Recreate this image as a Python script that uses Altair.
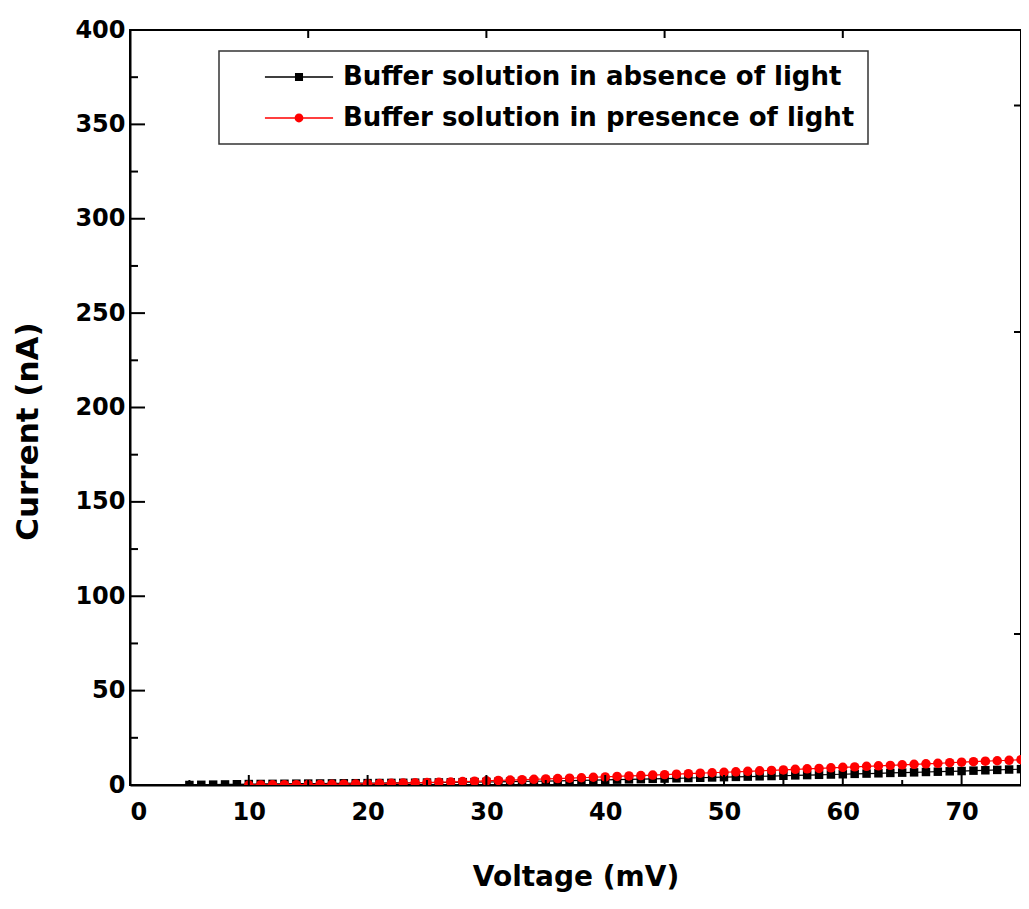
import altair as alt
import pandas as pd

# ---- data ----
voltage_dark = list(range(5, 76))
current_dark = [0.0, 0.1, 0.2, 0.3, 0.4, 0.5, 0.55, 0.6, 0.65, 0.7,
                0.75, 0.8, 0.85, 0.9, 0.95, 1.0, 1.05, 1.1, 1.15, 1.2,
                1.3, 1.35, 1.4, 1.5, 1.55, 1.6, 1.7, 1.8, 1.9, 2.0,
                2.1, 2.2, 2.3, 2.45, 2.6, 2.7, 2.85, 3.0, 3.1, 3.25,
                3.4, 3.55, 3.7, 3.85, 4.0, 4.15, 4.3, 4.45, 4.6, 4.75,
                4.9, 5.1, 5.25, 5.4, 5.55, 5.7, 5.9, 6.05, 6.2, 6.4,
                6.55, 6.7, 6.9, 7.05, 7.25, 7.4, 7.6, 7.8, 8.0, 8.2, 8.4]
voltage_light = list(range(10, 76))
current_light = [0.0, 0.05, 0.1, 0.15, 0.2, 0.25, 0.3, 0.35, 0.45, 0.55,
                 0.65, 0.75, 0.9, 1.0, 1.15, 1.3, 1.45, 1.6, 1.8, 2.0,
                 2.2, 2.4, 2.6, 2.8, 3.0, 3.2, 3.4, 3.6, 3.85, 4.1,
                 4.3, 4.55, 4.8, 5.0, 5.25, 5.5, 5.75, 6.0, 6.25, 6.5,
                 6.75, 7.0, 7.25, 7.5, 7.75, 8.0, 8.3, 8.55, 8.8, 9.1,
                 9.35, 9.6, 9.9, 10.15, 10.4, 10.7, 10.95, 11.2, 11.5, 11.8,
                 12.1, 12.35, 12.6, 12.85, 13.1, 13.4]

series_names = ["Buffer solution in absence of light",
                "Buffer solution in presence of light"]
series_colors = ["#000000", "#ff0000"]

x_tick_labels = [0, 10, 20, 30, 40, 50, 60, 70]
x_minor = [5, 15, 25, 35, 45, 55, 65, 75]
y_tick_labels = [0, 50, 100, 150, 200, 250, 300, 350, 400]
y_minor = [25, 75, 125, 175, 225, 275, 325, 375]
top_ticks = [15, 30, 45, 60]
right_ticks = [80, 240, 360]

W, H = 891, 755
FONT = "DejaVu Sans"

dark = pd.DataFrame({"V": voltage_dark, "I": current_dark})
light = pd.DataFrame({"V": voltage_light, "I": current_light})
legend_df = pd.DataFrame({"series": series_names})

xs = alt.Scale(domain=[0, 75], nice=False, zero=False)
ys = alt.Scale(domain=[0, 400], nice=False)

x_axis = alt.Axis(values=x_tick_labels, title="Voltage (mV)", grid=False, ticks=False, tickSize=0,
                  domainColor="black", domainWidth=2, labelFont=FONT, labelFontWeight="bold",
                  labelFontSize=24, labelColor="black", labelPadding=15, titleFont=FONT,
                  titleFontWeight="bold", titleFontSize=28, titleColor="black",
                  titleBaseline="alphabetic", titleY=100)
y_axis = alt.Axis(values=y_tick_labels, title="Current (nA)", grid=False, ticks=False, tickSize=0,
                  domainColor="black", domainWidth=2, labelFont=FONT, labelFontWeight="bold",
                  labelFontSize=24, labelColor="black", labelPadding=5, titleFont=FONT,
                  titleFontWeight="bold", titleFontSize=31, titleColor="black",
                  titleBaseline="alphabetic", titleX=-93, titleY=401)

X = dict(field="V", type="quantitative", scale=xs, axis=x_axis, title="Voltage (mV)")
Y = dict(field="I", type="quantitative", scale=ys, axis=y_axis, title="Current (nA)")

line_dark = alt.Chart(dark).mark_line(color="#000000", strokeWidth=1.2, clip=True).encode(
    x=alt.X(**X), y=alt.Y(**Y))
pts_dark = alt.Chart(dark).mark_point(shape="square", filled=True, color="#000000", size=72,
                                      opacity=1, clip=True).encode(
    x=alt.X(**X), y=alt.Y(**Y))
line_light = alt.Chart(light).mark_line(color="#ff0000", strokeWidth=1.2, clip=True).encode(
    x=alt.X(**X), y=alt.Y(**Y))
pts_light = alt.Chart(light).mark_point(shape="circle", filled=True, color="#ff0000", size=90,
                                        opacity=1, clip=True).encode(
    x=alt.X(**X), y=alt.Y(**Y))

# legend symbols: line with marker (path units: 13 px each, symbolSize 26^2)
line_path = "M-2.62,-0.055H2.62V0.055H-2.62Z"
sq_path = "M-0.31,-0.31H0.31V0.31H-0.31Z"
ci_path = "M0.34,0A0.34,0.34,0,1,1,-0.34,0A0.34,0.34,0,1,1,0.34,0Z"
leg = alt.Legend(title=None, orient="none", legendX=89, legendY=21, symbolOpacity=1)
legend_layer = alt.Chart(legend_df).mark_point(filled=True, opacity=0).encode(
    color=alt.Color("series:N", scale=alt.Scale(domain=series_names, range=series_colors),
                    legend=leg),
    shape=alt.Shape("series:N", scale=alt.Scale(domain=series_names,
                                                range=[line_path + sq_path, line_path + ci_path]),
                    legend=leg),
)

def tick_layer(values, field, enc):
    df = pd.DataFrame({field: values})
    return alt.Chart(df).mark_rule(color="black", strokeWidth=2).encode(**enc)

ticks = [
    tick_layer(x_tick_labels, "V", dict(x=alt.X(**X), y=alt.value(H), y2=alt.value(H - 10))),
    tick_layer(x_minor, "V", dict(x=alt.X(**X), y=alt.value(H), y2=alt.value(H - 5))),
    tick_layer(top_ticks, "V", dict(x=alt.X(**X), y=alt.value(0), y2=alt.value(8))),
    tick_layer(y_tick_labels, "I", dict(y=alt.Y(**Y), x=alt.value(0), x2=alt.value(15))),
    tick_layer(y_minor, "I", dict(y=alt.Y(**Y), x=alt.value(0), x2=alt.value(8))),
    tick_layer(right_ticks, "I", dict(y=alt.Y(**Y), x=alt.value(W), x2=alt.value(W - 7))),
]

chart = alt.layer(line_dark, pts_dark, line_light, pts_light, legend_layer, *ticks).properties(
    width=W, height=H,
    padding={"left": 122, "top": 22, "right": 0, "bottom": 116},
    autosize=alt.AutoSizeParams(type="none"),
    background="white",
).configure_view(stroke="black", strokeWidth=2).configure_legend(
    symbolSize=676, symbolStrokeWidth=0, symbolOffset=54, labelOffset=31,
    padding=13, rowPadding=15, labelFont=FONT, labelFontSize=26, labelFontWeight="bold",
    labelColor="black", strokeColor="#333333", strokeWidth=1.5, fillColor="white",
    labelLimit=900,
)

chart.save("out.html", embed_options={"renderer": "svg", "actions": False})
